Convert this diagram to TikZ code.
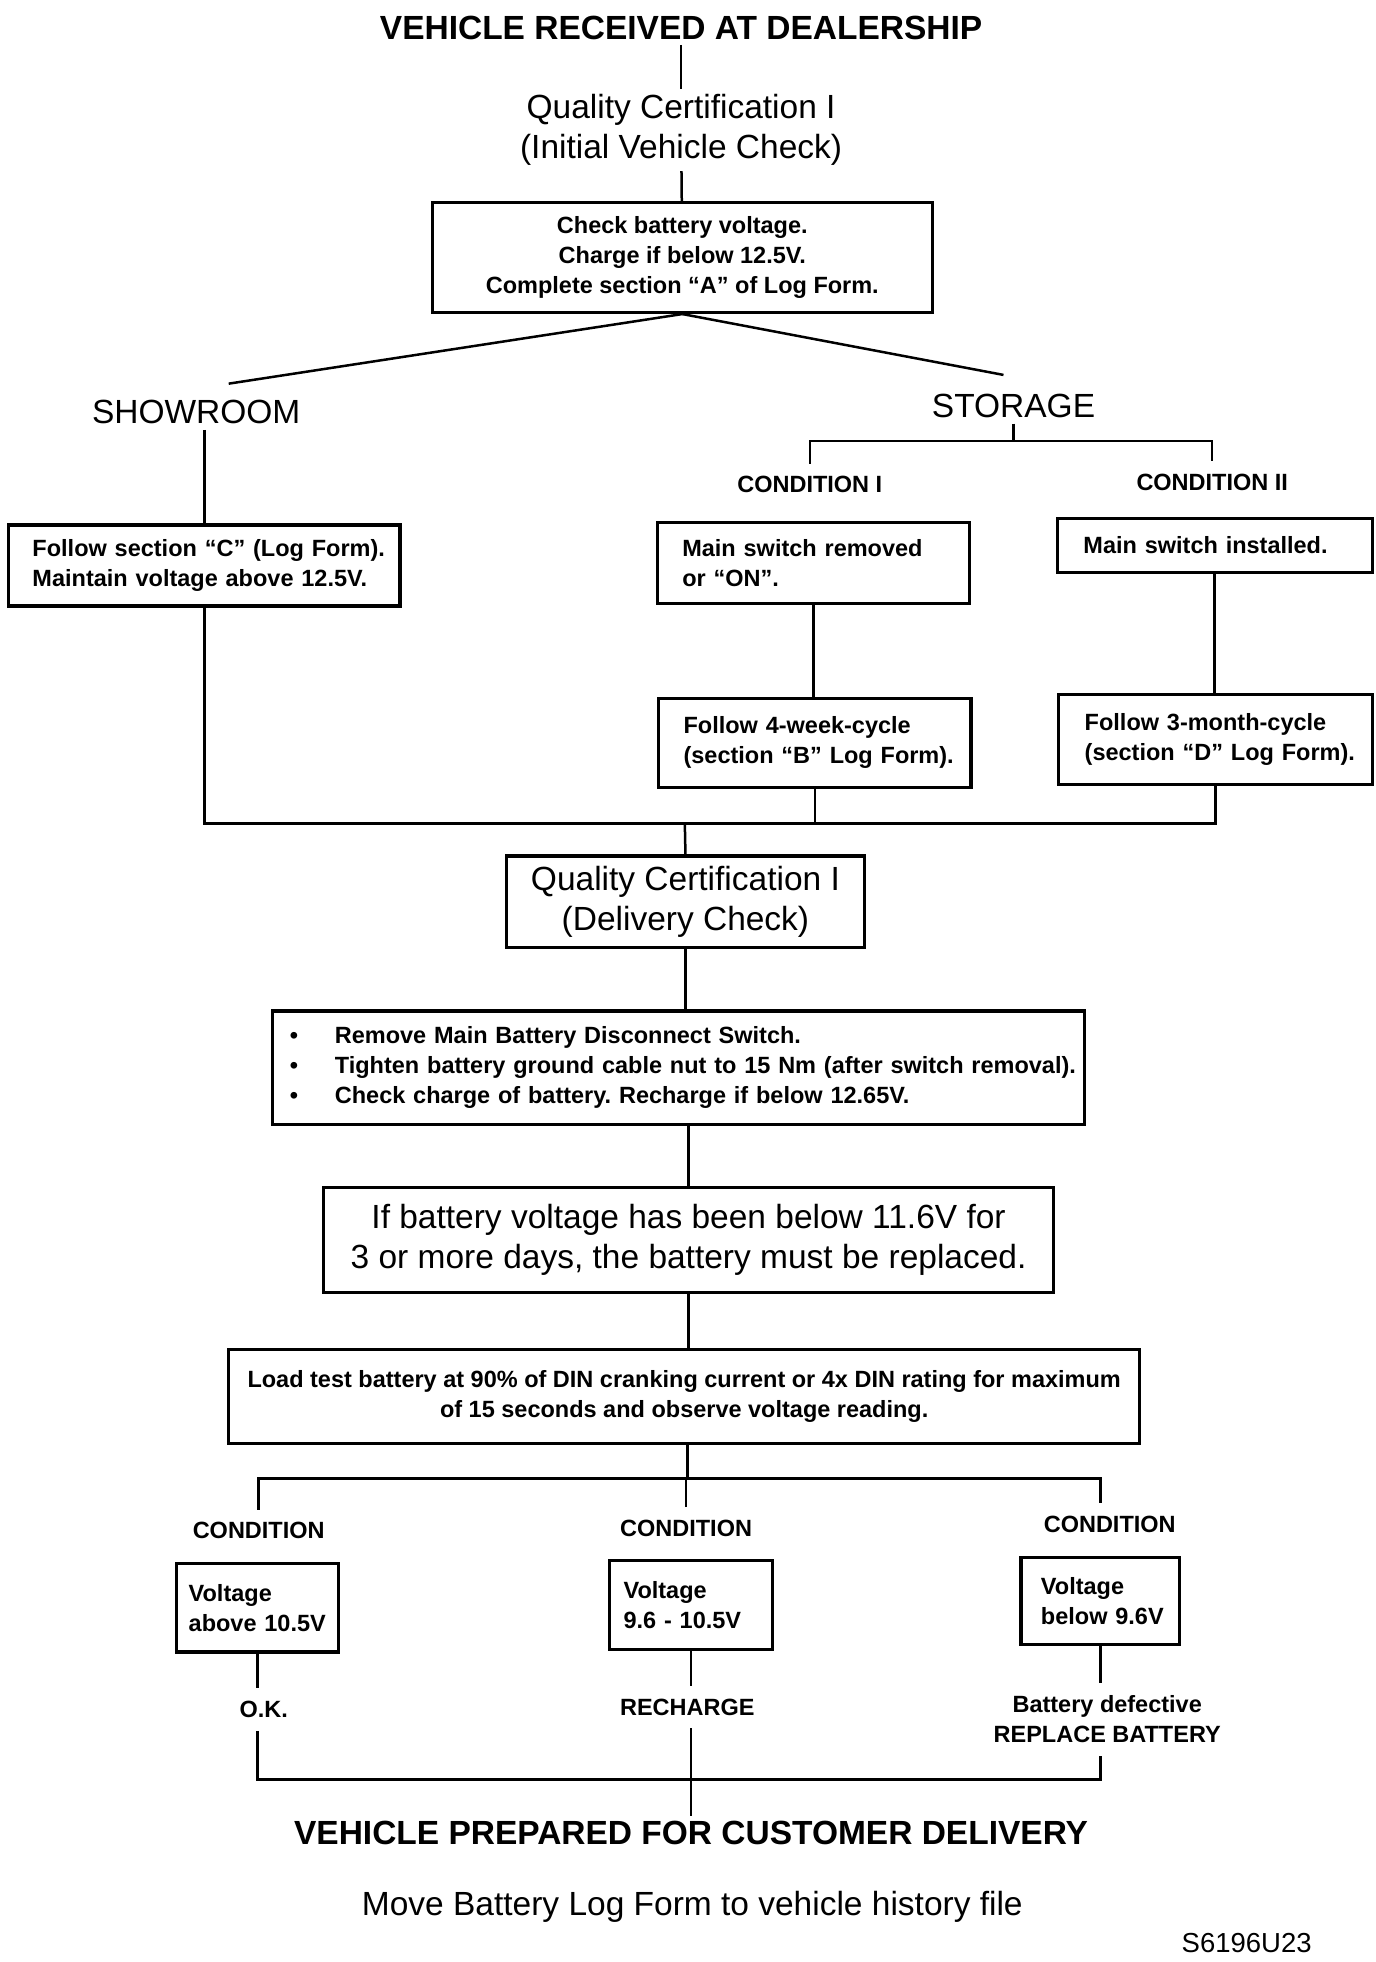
\documentclass[tikz,border=0pt]{standalone}
\usepackage{fontspec}
\setmainfont{Liberation Sans}
\usepackage{tikz}
\frenchspacing

\newcommand{\bigtxt}{\fontsize{13.4pt}{16pt}\selectfont}
\newcommand{\titletxt}{\fontsize{13.4pt}{16pt}\selectfont\bfseries}
\newcommand{\smalltxt}{\fontsize{9.4pt}{12pt}\selectfont\bfseries}

\tikzset{
	box/.style={draw, line width=1.3pt, inner sep=0pt, font=\smalltxt, align=center},
	lbox/.style={box, align=left, execute at begin node={\leftskip=#1\relax}},
	lbl/.style={font=\smalltxt, align=center, inner xsep=1pt, inner ysep=5pt},
	big/.style={font=\bigtxt, align=center, inner sep=2pt},
	head/.style={font=\titletxt, inner sep=2pt},
	link/.style={line width=1pt},
}

\begin{document}
\begin{tikzpicture}[x=0.5pt, y=-0.5pt]
		\useasboundingbox (0, 0) rectangle (1101, 1570);
		% arrival and first check
		\node[head] (recv) at (545, 22) {VEHICLE RECEIVED AT DEALERSHIP};
		\node[big] (qc1) at (545, 104) {Quality Certification I\\(Initial Vehicle Check)};
		\node[box, minimum width=200pt, minimum height=44pt] (chk) at (546, 206)
			{Check battery voltage.\\Charge if below 12.5V.\\Complete section “A” of Log Form.};
		\draw[link] (recv) -- (qc1);
		\draw[link] (qc1) -- (chk);

		% showroom / storage
		\coordinate (showtop) at (183, 307);
		\coordinate (stortop) at (803, 300);
		\draw[link] (chk.south) -- (showtop);
		\draw[link] (chk.south) -- (stortop);
		\node[big] (show) at (157, 330) {SHOWROOM};
		\node[big] (stor) at (811, 325) {STORAGE};
		\coordinate (fork1) at (811, 353);
		\node[lbl] (c1) at (648, 388) {CONDITION I};
		\node[lbl] (c2) at (970, 386) {CONDITION II};
		\draw[link] (stor) -- (fork1);
		\draw[link] (c1.north) |- (fork1) -| (c2.north);

		\node[lbox=9.5pt, text width=156.5pt, minimum height=32.5pt] (showbox) at (163.5, 452.5)
			{Follow section “C” (Log Form).\\Maintain voltage above 12.5V.};
		\node[lbox=10pt, text width=125pt, minimum height=32.5pt] (sw1) at (651, 450.5)
			{Main switch removed\\or “ON”.};
		\node[lbox=10.5pt, text width=126pt, minimum height=21.5pt] (sw2) at (972, 436.5)
			{Main switch installed.};
		\node[lbox=10pt, text width=125pt, minimum height=35.5pt] (cyc1) at (652, 594.5)
			{Follow 4-week-cycle\\(section “B” Log Form).};
		\node[lbox=10.5pt, text width=125.5pt, minimum height=36pt] (cyc2) at (972.5, 592)
			{Follow 3-month-cycle\\(section “D” Log Form).};
		\draw[link] (showbox.north |- show.south) -- (showbox.north);
		\draw[link] (sw1.south) -- (sw1.south |- cyc1.north);
		\draw[link] (sw2.south) -- (sw2.south |- cyc2.north);

		% delivery check
		\coordinate (join1) at (548, 659);
		\draw[link] (showbox.south) |- (join1) -| (cyc2.south);
		\draw[link] (cyc1.south) -- (cyc1.south |- join1);
		\node[box, font=\bigtxt, minimum width=143.5pt, minimum height=36.5pt] (qc2) at (548.5, 721.5)
			{Quality Certification I\\(Delivery Check)};
		\draw[link] (join1) -- (qc2.north);
		\node[lbox=7pt, text width=325pt, minimum height=45.5pt] (prep) at (543, 854.5)
			{\makebox[18pt][l]{\textbullet}Remove Main Battery Disconnect Switch.\\
			\makebox[18pt][l]{\textbullet}Tighten battery ground cable nut to 15 Nm (after switch removal).\\
			\makebox[18pt][l]{\textbullet}Check charge of battery. Recharge if below 12.65V.};
		\node[box, font=\bigtxt, minimum width=292pt, minimum height=42pt] (warn) at (551, 992)
			{If battery voltage has been below 11.6V for\\3 or more days, the battery must be replaced.};
		\node[box, minimum width=364.5pt, minimum height=37.5pt] (load) at (547.5, 1117.5)
			{Load test battery at 90\% of DIN cranking current or 4x DIN rating for maximum\\of 15 seconds and observe voltage reading.};
		\draw[link] (qc2.south) -- (qc2.south |- prep.north);
		\draw[link] (warn.north |- prep.south) -- (warn.north);
		\draw[link] (warn.south) -- (warn.south |- load.north);

		% load test results
		\coordinate (fork2) at (550, 1183);
		\node[lbl] (cA) at (207, 1225) {CONDITION};
		\node[lbl] (cB) at (549, 1223) {CONDITION};
		\node[lbl] (cC) at (888, 1220) {CONDITION};
		\node[lbox=5pt, text width=65pt, minimum height=35.5pt] (vA) at (206, 1286.5) {Voltage\\above 10.5V};
		\node[lbox=5.5pt, text width=65pt, minimum height=35.5pt] (vB) at (553, 1284.5) {Voltage\\9.6 - 10.5V};
		\node[lbox=8pt, text width=63.5pt, minimum height=35pt] (vC) at (880.5, 1281) {Voltage\\below 9.6V};
		\draw[link] (fork2 |- load.south) -- (fork2);
		\draw[link] (cA.north) |- (fork2) -| (vC.north |- cC.north);
		\draw[link] (cB.north) -- (cB.north |- fork2);

		\node[lbl] (ok) at (211, 1368) {O.K.};
		\node[lbl] (rech) at (550, 1366) {RECHARGE};
		\node[lbl] (defect) at (886, 1376) {Battery defective\\REPLACE BATTERY};
		\draw[link] (vA.south) -- (vA.south |- ok.north);
		\draw[link] (vB.south) -- (vB.south |- rech.north);
		\draw[link] (vC.south) -- (vC.south |- defect.north);

		% end
		\coordinate (join2) at (553, 1424);
		\node[head] (done) at (553, 1467) {VEHICLE PREPARED FOR CUSTOMER DELIVERY};
		\draw[link] (vA.south |- ok.south) |- (join2) -| (vC.south |- defect.south);
		\draw[link] (vB.south |- rech.south) -- (vB.south |- done.north);
		\node[big] (move) at (554, 1526) {Move Battery Log Form to vehicle history file};
		\node[font=\fontsize{11pt}{13pt}\selectfont, anchor=east, inner sep=0pt] (code) at (1050, 1555) {S6196U23};
	\end{tikzpicture}
\end{document}
